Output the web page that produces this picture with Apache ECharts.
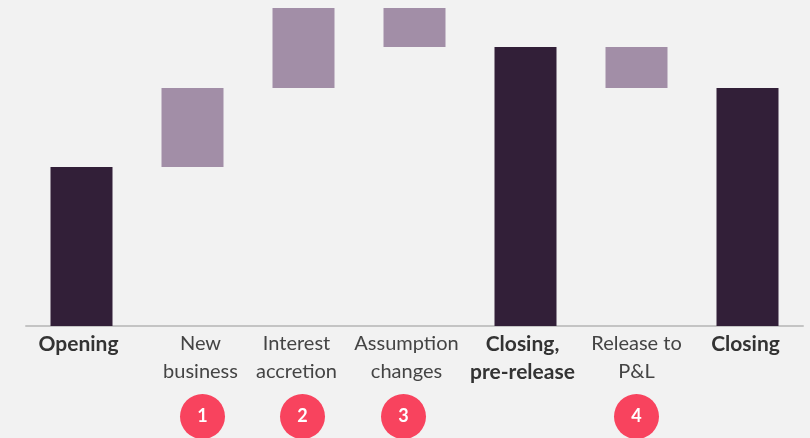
<!DOCTYPE html>
<html>
<head>
<meta charset="utf-8">
<style>
  html, body { margin: 0; padding: 0; background: #f2f2f2; }
  #chart { width: 810px; height: 438px; }
</style>
<script src="https://cdn.jsdelivr.net/npm/echarts@6/dist/echarts.min.js"></script>
</head>
<body>
<div id="chart"></div>
<script>
var categories = ['Opening', 'New\nbusiness', 'Interest\naccretion', 'Assumption\nchanges', 'Closing,\npre-release', 'Release to\nP&L', 'Closing'];
var values = [159, 79, 80, -39, 279, -41, 238];
var isTotal = [true, false, false, false, true, false, true];
var markers = ['', '1', '2', '3', '', '4', ''];

(function () {
  var dark = '#321f38';
  var light = '#a28ea7';
  // small horizontal nudges (px) of labels / markers, as in the slide
  var labelShift = [-3, 8, -7, -8, -3, 0, -2];
  var markerShift = [0, 10, -1, -11, 0, 0, 0];

  // running level for the floating bars
  var base = [];
  var size = [];
  var level = 0;
  values.forEach(function (v, i) {
    if (isTotal[i]) {
      base.push(0);
      size.push({ value: v, itemStyle: { color: dark } });
      level = v;
    } else if (v >= 0) {
      base.push(level);
      size.push({ value: v, itemStyle: { color: light } });
      level += v;
    } else {
      level += v;
      base.push(level);
      size.push({ value: -v, itemStyle: { color: light } });
    }
  });

  function pad(shift) {
    return shift >= 0 ? [0, 0, 0, 2 * shift] : [0, -2 * shift, 0, 0];
  }

  var labelRich = {};
  var markerRich = {};
  categories.forEach(function (c, i) {
    labelRich['n' + i] = { fontFamily: 'Lato', fontSize: 20, color: '#444', lineHeight: 28, padding: pad(labelShift[i]) };
    labelRich['b' + i] = { fontFamily: 'Lato', fontSize: 21, fontWeight: 'bold', color: '#333', lineHeight: 28, padding: pad(labelShift[i]) };
    var s = markerShift[i];
    markerRich['l' + i] = { width: s > 0 ? 2 * s : 0, height: 45 };
    markerRich['r' + i] = { width: s < 0 ? -2 * s : 0, height: 45 };
  });
  markerRich.c = {
    width: 45, height: 45, borderRadius: 22.5, align: 'center',
    backgroundColor: '#f8435e', color: '#fff',
    fontFamily: 'Lato', fontSize: 18, fontWeight: 'bold', lineHeight: 45
  };

  var chart = echarts.init(document.getElementById('chart'), null, { renderer: 'canvas' });
  chart.setOption({
    animation: false,
    backgroundColor: '#f2f2f2',
    grid: { left: 26, right: 7, top: 0, height: 326, containLabel: false, outerBoundsMode: 'none' },
    xAxis: [{
      type: 'category',
      data: categories,
      axisLine: { lineStyle: { color: '#c4c4c4', width: 2 } },
      axisTick: { show: false },
      axisLabel: {
        interval: 0,
        margin: 4,
        formatter: function (v, i) {
          var key = (isTotal[i] ? 'b' : 'n') + i;
          return v.split('\n').map(function (line) {
            return '{' + key + '|' + line + '}';
          }).join('\n');
        },
        rich: labelRich
      }
    }, {
      type: 'category',
      data: markers,
      position: 'bottom',
      axisLine: { show: false },
      axisTick: { show: false },
      axisLabel: {
        interval: 0,
        margin: 68,
        formatter: function (v, i) {
          if (!v) return '';
          return '{l' + i + '|}{c|' + v + '}{r' + i + '|}';
        },
        rich: markerRich
      }
    }],
    yAxis: {
      type: 'value', min: 0, max: 326, show: false
    },
    series: [{
      type: 'bar',
      stack: 'w',
      barWidth: 62,
      itemStyle: { color: 'transparent' },
      data: base
    }, {
      type: 'bar',
      stack: 'w',
      barWidth: 62,
      data: size
    }]
  });
})();
</script>
</body>
</html>
